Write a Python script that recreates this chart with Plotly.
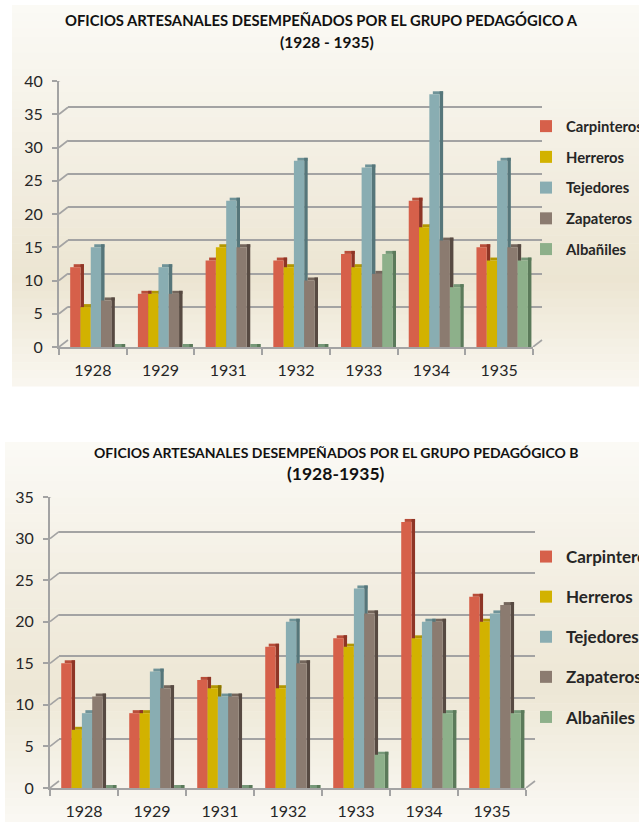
import plotly.graph_objects as go

# ---------------- data ----------------
years = ["1928", "1929", "1931", "1932", "1933", "1934", "1935"]
series = ["Carpinteros", "Herreros", "Tejedores", "Zapateros", "Albañiles"]

carpinteros_a = [12, 8, 13, 13, 14, 22, 15]
herreros_a = [6, 8, 15, 12, 12, 18, 13]
tejedores_a = [15, 12, 22, 28, 27, 38, 28]
zapateros_a = [7, 8, 15, 10, 11, 16, 15]
albaniles_a = [0, 0, 0, 0, 14, 9, 13]

carpinteros_b = [15, 9, 13, 17, 18, 32, 23]
herreros_b = [7, 9, 12, 12, 17, 18, 20]
tejedores_b = [9, 14, 11, 20, 24, 20, 21]
zapateros_b = [11, 12, 11, 15, 21, 20, 22]
albaniles_b = [0, 0, 0, 0, 4, 9, 9]

yticks_a = [0, 5, 10, 15, 20, 25, 30, 35, 40]
yticks_b = [0, 5, 10, 15, 20, 25, 30, 35]

title_a = ["OFICIOS ARTESANALES DESEMPEÑADOS POR EL GRUPO PEDAGÓGICO A", "(1928 - 1935)"]
title_b = ["OFICIOS ARTESANALES DESEMPEÑADOS POR EL GRUPO PEDAGÓGICO B", "(1928-1935)"]

# ---------------- styles ----------------
W, H = 639, 822
FONT = "Lato"
TXT = "#262626"
front_c = ["#D6604A", "#D2B200", "#89ADB2", "#8B7B70", "#8DB08A"]
top_c = ["#B84E3A", "#B39700", "#6F9398", "#74665C", "#769878"]
side_c = ["#8E3526", "#8A7400", "#56767A", "#574A42", "#5B7A5A"]
GRID = "#a3a3a3"

DX, DY = 9, 7  # back-wall offset in px


def xd(a, b):
    return [a / W, b / W]


def yd(bot, top):
    return [1 - bot / H, 1 - top / H]


charts = [
    dict(vals=[carpinteros_a, herreros_a, tejedores_a, zapateros_a, albaniles_a],
         x0=59, x1=533, ybot=347, ytop=81, ymax=40, ticks=yticks_a,
         grid=("x", "y"), bars=("x3", "y3"), legend="legend"),
    dict(vals=[carpinteros_b, herreros_b, tejedores_b, zapateros_b, albaniles_b],
         x0=50, x1=526, ybot=788, ytop=497, ymax=35, ticks=yticks_b,
         grid=("x2", "y2"), bars=("x4", "y4"), legend="legend2"),
]

fig = go.Figure()
layout = {}
shapes = []


# background gradient panels
def add_panel(xl, ytop_px, ybot_px, stops):
    n = 48
    h = (ybot_px - ytop_px) / n
    for i in range(n):
        t = (i + 0.5) / n
        for j in range(len(stops) - 1):
            if stops[j][0] <= t <= stops[j + 1][0]:
                f = (t - stops[j][0]) / (stops[j + 1][0] - stops[j][0])
                c = [round(stops[j][1][k] + f * (stops[j + 1][1][k] - stops[j][1][k])) for k in range(3)]
                break
        y0 = ytop_px + i * h
        shapes.append(dict(type="rect", xref="paper", yref="paper", layer="below",
                           x0=xl / W, x1=1, y0=1 - (y0 + h + 0.6) / H, y1=1 - y0 / H,
                           fillcolor="rgb(%d,%d,%d)" % tuple(c), line=dict(width=0)))


add_panel(12, 5, 386, [(0, (251, 250, 246)), (0.35, (244, 240, 229)), (0.72, (236, 229, 210)),
                       (1.0, (249, 247, 240))])
add_panel(5, 442, 822, [(0, (251, 250, 246)), (0.4, (242, 237, 224)), (0.65, (237, 231, 213)),
                        (1.0, (250, 249, 244))])

bw = 0.152
start = -0.335
for ci, ch in enumerate(charts):
    gx, gy = ch["grid"]
    bx, by = ch["bars"]
    pxu = (ch["ybot"] - ch["ytop"]) / ch["ymax"]  # px per unit
    catpx = (ch["x1"] - ch["x0"]) / len(years)
    dxu = 3.5 / catpx
    dyu = 3.0 / pxu
    # grid (back wall) axes
    fig.add_trace(go.Scatter(x=[0], y=[0], xaxis=gx, yaxis=gy, mode="markers",
                             marker=dict(opacity=0), hoverinfo="skip", showlegend=False))
    layout["xaxis" + gx[1:]] = dict(domain=xd(ch["x0"] + DX, ch["x1"] + DX), range=[0, 1],
                                    visible=False, anchor=gy)
    layout["yaxis" + gy[1:]] = dict(domain=yd(ch["ybot"] - DY, ch["ytop"] - DY),
                                    range=[0, ch["ymax"]], tickvals=ch["ticks"], showgrid=True,
                                    gridcolor=GRID, gridwidth=1.8, showticklabels=False,
                                    zeroline=False, showline=False, ticks="", anchor=gx)
    # shadow faces first
    for si in range(len(series)):
        v = ch["vals"][si]
        off = start + si * bw
        fig.add_trace(go.Bar(x=years, y=[dyu] * len(v), base=v, offset=off + dxu, width=bw,
                             marker=dict(color=top_c[si], line=dict(width=0)),
                             xaxis=bx, yaxis=by, showlegend=False, hoverinfo="skip"))
        fig.add_trace(go.Bar(x=years, y=[a + dyu for a in v], base=0, offset=off + bw, width=dxu,
                             marker=dict(color=side_c[si], line=dict(width=0)),
                             xaxis=bx, yaxis=by, showlegend=False, hoverinfo="skip"))
    for si, name in enumerate(series):
        v = ch["vals"][si]
        off = start + si * bw
        fig.add_trace(go.Bar(x=years, y=v, offset=off, width=bw, name=name,
                             marker=dict(color=front_c[si], line=dict(width=0)),
                             xaxis=bx, yaxis=by, legend=ch["legend"], legendgroup=name + str(ci)))
    layout["xaxis" + bx[1:]] = dict(domain=xd(ch["x0"], ch["x1"]), type="category",
                                    range=[-0.5, len(years) - 0.5], anchor=by, showline=True,
                                    linecolor=GRID, linewidth=1.8, ticks="outside",
                                    tickson="boundaries", ticklen=6, tickwidth=1.5,
                                    tickcolor=GRID, showgrid=False, ticklabelstandoff=8,
                                    tickfont=dict(family=FONT, size=16, color=TXT))
    layout["yaxis" + by[1:]] = dict(domain=yd(ch["ybot"], ch["ytop"]), range=[0, ch["ymax"]],
                                    tickvals=ch["ticks"], showgrid=False, zeroline=False,
                                    showline=True, linecolor=GRID, linewidth=1.8,
                                    ticks="outside", ticklen=5, tickwidth=1.5, tickcolor=GRID,
                                    anchor=bx, ticklabelstandoff=6,
                                    tickfont=dict(family=FONT, size=16, color=TXT))
    # connectors from front ticks to back wall
    for t in ch["ticks"]:
        shapes.append(dict(type="line", xref=bx + " domain", yref=by, x0=0,
                           x1=DX / (ch["x1"] - ch["x0"]), y0=t, y1=t + DY / pxu,
                           line=dict(color=GRID, width=1.6)))
    shapes.append(dict(type="line", xref=bx + " domain", yref=by, x0=1,
                       x1=1 + DX / (ch["x1"] - ch["x0"]), y0=0, y1=DY / pxu,
                       line=dict(color=GRID, width=1.6)))


def title(text, x, y, size):
    return dict(text=text, x=x / W, y=1 - y / H, xref="paper", yref="paper", showarrow=False,
                xanchor="center", yanchor="middle",
                font=dict(family=FONT, size=size, color="#111", weight="bold"))


annotations = [
    title(title_a[0], 322, 20, 14.8),
    title(title_a[1], 327, 42, 15.5),
    title(title_b[0], 336, 452, 14),
    title(title_b[1], 336, 474, 17.5),
]

fig.update_layout(
    width=W, height=H, margin=dict(l=0, r=0, t=0, b=0, autoexpand=False),
    paper_bgcolor="white", plot_bgcolor="rgba(0,0,0,0)",
    barmode="overlay", showlegend=True, shapes=shapes, annotations=annotations,
    legend=dict(x=(566 - 40) / W, xanchor="left", y=1 - 110 / H, yanchor="top",
                traceorder="grouped", tracegroupgap=8.5, bgcolor="rgba(0,0,0,0)",
                font=dict(family=FONT, size=14.8, color=TXT, weight="bold")),
    legend2=dict(x=(566 - 40) / W, xanchor="left", y=1 - 539 / H, yanchor="top",
                 traceorder="grouped", tracegroupgap=15, bgcolor="rgba(0,0,0,0)",
                 font=dict(family=FONT, size=17, color=TXT, weight="bold")),
    **layout,
)

fig.write_html("out.html", config={"displayModeBar": False},
               post_script="document.body.style.margin='0';")
